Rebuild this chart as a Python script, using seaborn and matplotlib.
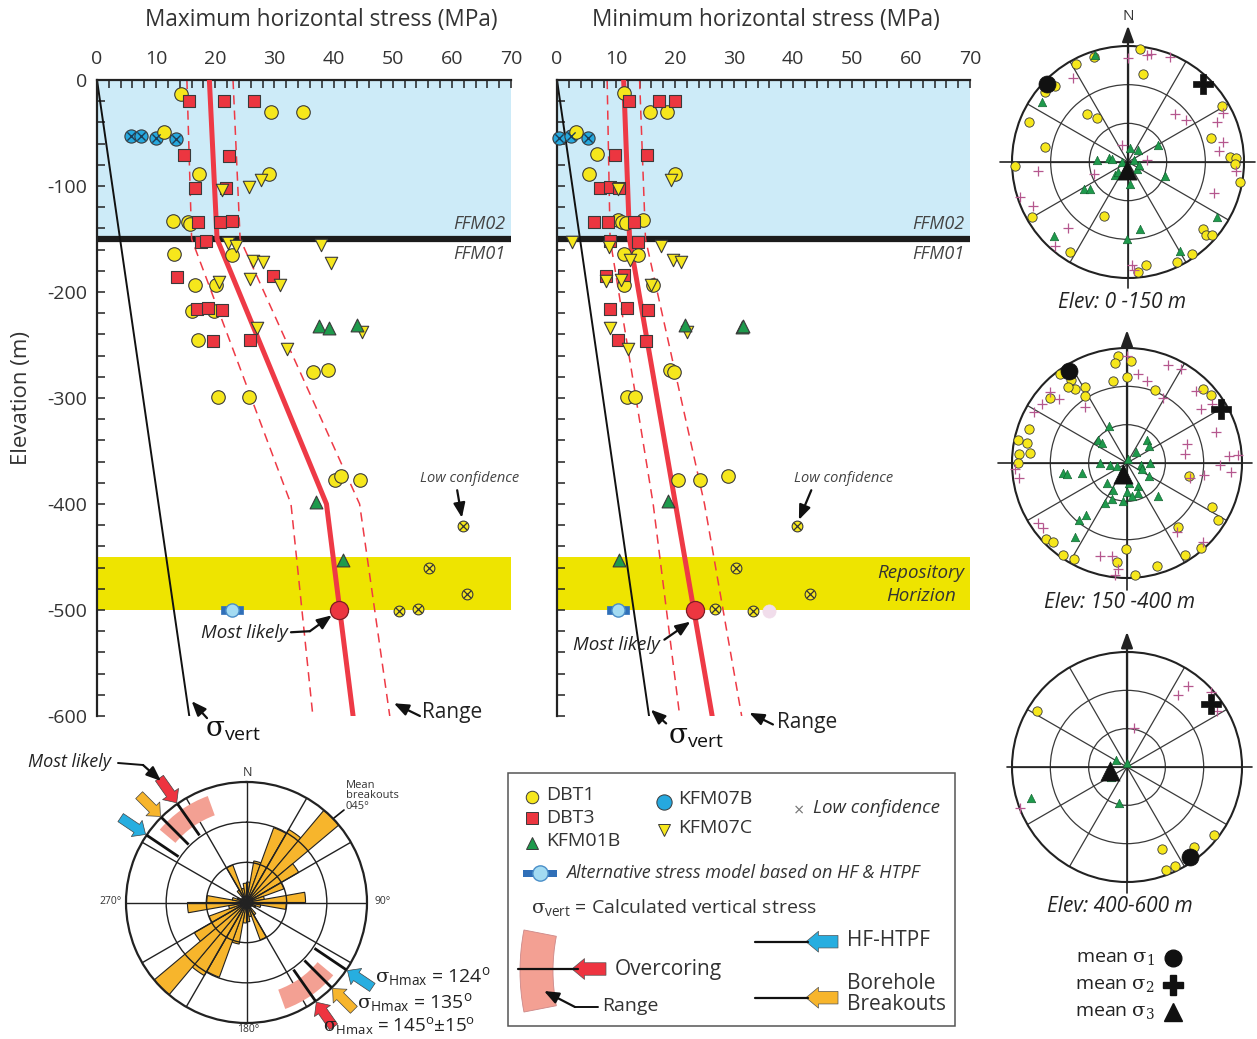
import numpy as np
import pandas as pd
import matplotlib
matplotlib.use("Agg")
import matplotlib.pyplot as plt
import seaborn as sns
from matplotlib.patches import Rectangle, Wedge, FancyArrowPatch
from matplotlib.path import Path

sns.set_style("white")
plt.rcParams["font.family"] = ["Open Sans", "DejaVu Sans"]
plt.rcParams["mathtext.fontset"] = "custom"
plt.rcParams["mathtext.rm"] = "DejaVu Serif"
plt.rcParams["mathtext.sf"] = "Open Sans"
plt.rcParams["mathtext.it"] = "DejaVu Serif:italic"
plt.rcParams["axes.unicode_minus"] = False

# ---------------- maximum horizontal stress (MPa) vs elevation (m) ----------------
HMAX_DBT1_S = [14.2, 29.5, 34.9, 11.3, 17.2, 29.0, 12.8, 15.4, 15.7, 13.0, 22.9, 16.6, 20.2, 16.0,
               19.8, 17.0, 36.6, 39.1, 20.4, 25.7, 40.2, 41.2, 44.4]
HMAX_DBT1_Z = [-13, -30, -30, -49, -89, -89, -133, -134, -136, -164, -165, -193, -193, -218,
               -218, -245, -275, -274, -299, -299, -377, -374, -377]
HMAX_DBT3_S = [15.6, 21.5, 26.6, 14.7, 22.3, 16.6, 21.8, 17.1, 20.8, 22.9, 17.6, 18.5, 13.6, 29.8,
               16.9, 18.8, 21.1, 19.6, 25.9]
HMAX_DBT3_Z = [-20, -20, -20, -71, -72, -102, -102, -134, -134, -133, -153, -152, -186, -185,
               -216, -215, -217, -246, -245]
HMAX_KFM07C_S = [21.1, 25.7, 27.7, 22.2, 23.5, 37.9, 26.3, 28.0, 39.6, 20.7, 25.9, 31.0, 27.0, 32.1, 44.8]
HMAX_KFM07C_Z = [-104, -101, -94, -154, -157, -156, -171, -172, -173, -191, -188, -193, -234, -254, -238]
HMAX_KFM01B_S = [37.6, 39.3, 43.9, 37.1, 41.6]
HMAX_KFM01B_Z = [-232, -234, -231, -398, -453]
HMAX_KFM07B_S = [5.7, 7.5, 10.0, 13.4]
HMAX_KFM07B_Z = [-53, -53, -55, -56]
HMAX_LOWCONF_S = [61.8, 56.1, 62.5, 51.1, 54.2]
HMAX_LOWCONF_Z = [-421, -460, -485, -501, -499]
HMAX_ALT = [22.8, -500]
HMAX_LIKELY = [41.0, -500]
HMAX_BEST_Z = [0, -150, -400, -600]
HMAX_BEST_S = [19.0, 20.3, 38.8, 43.3]
HMAX_LOW_S = [15.2, 16.0, 32.8, 36.5]
HMAX_HIGH_S = [23.0, 24.2, 44.4, 49.5]

# ---------------- minimum horizontal stress (MPa) vs elevation (m) ----------------
HMIN_DBT1_S = [11.3, 15.7, 18.6, 3.3, 6.8, 5.4, 20.0, 10.4, 11.0, 11.7, 14.6, 11.3, 13.8, 11.3,
               16.3, 19.2, 19.8, 11.9, 13.2, 20.5, 24.2, 28.9]
HMIN_DBT1_Z = [-12, -30, -30, -49, -70, -89, -89, -132, -134, -135, -132, -164, -165, -193,
               -193, -274, -275, -299, -299, -377, -377, -374]
HMIN_DBT3_S = [12.2, 17.3, 20.0, 9.8, 15.2, 7.3, 8.9, 10.5, 6.3, 8.7, 13.1, 8.9, 13.7, 8.3,
               11.3, 9.0, 11.9, 15.5, 10.4, 15.1]
HMIN_DBT3_Z = [-20, -20, -20, -71, -71, -102, -101, -102, -134, -134, -134, -152, -153, -185,
               -184, -216, -215, -217, -245, -246]
HMIN_KFM07C_S = [10.4, 19.4, 2.6, 8.8, 17.6, 12.4, 19.7, 21.1, 8.3, 10.9, 16.0, 9.0, 22.0, 12.0]
HMIN_KFM07C_Z = [-103, -94, -153, -158, -157, -170, -170, -172, -190, -189, -193, -234, -238, -254]
HMIN_KFM01B_S = [21.7, 31.3, 31.6, 18.8, 10.5]
HMIN_KFM01B_Z = [-231, -233, -232, -397, -453]
HMIN_KFM07B_S = [0.4, 2.3, 5.3]
HMIN_KFM07B_Z = [-55, -53, -55]
HMIN_LOWCONF_S = [40.6, 30.4, 42.9, 26.7, 33.3]
HMIN_LOWCONF_Z = [-421, -460, -485, -499, -501]
HMIN_FADED = [36.0, -501]
HMIN_ALT = [10.4, -500]
HMIN_LIKELY = [23.4, -500]
HMIN_BEST_Z = [0, -150, -600]
HMIN_BEST_S = [11.3, 12.3, 26.3]
HMIN_RANGE_Z = [0, -150, -400, -600]
HMIN_LOW_S = [8.5, 9.0, 16.3, 20.8]
HMIN_HIGH_S = [14.0, 15.0, 25.0, 31.3]

# calculated vertical stress
SVERT_Z = [0, -600]
SVERT_S = [0.0, 15.6]

# ---------------- stereonets: trend / plunge (deg) ----------------
NET1_S1_TREND = [6, 342, 332, 10, 314, 316, 310, 59, 319, 325, 292, 74, 280, 87, 88, 91, 268, 100,
                 240, 204, 132, 133, 131, 213, 145, 154, 170, 175]
NET1_S1_PLUNGE = [2, 4, 4, 21, 2, 8, 6, 5, 41, 48, 7, 23, 25, 11, 6, 7, 2, 2, 4, 44, 12, 7, 4, 7, 3, 4, 9, 4]
NET1_S2_TREND = [0, 10, 12, 22, 327, 43, 44, 54, 63, 66, 78, 83, 85, 264, 95, 110, 252, 245, 222,
                 221, 178, 177, 340, 251]
NET1_S2_PLUNGE = [9, 6, 4, 2, 12, 5, 38, 34, 7, 14, 15, 19, 75, 20, 6, 19, 2, 9, 21, 4, 10, 6, 76, 62]
NET1_S3_TREND = [343, 305, 225, 10, 41, 60, 283, 274, 282, 270, 74, 127, 107, 111, 174, 238, 235,
                 170, 181, 150, 122, 224, 223]
NET1_S3_PLUNGE = [3, 9, 9, 79, 78, 63, 75, 66, 77, 85, 85, 81, 81, 59, 73, 50, 54, 37, 30, 10, 9, 76, 79]
NET1_MEAN_TREND = [314, 44, 186]
NET1_MEAN_PLUNGE = [3, 6, 84]

NET2_S1_TREND = [355, 2, 353, 0, 350, 323, 326, 325, 322, 331, 328, 310, 21, 46, 51, 289, 282, 281,
                 275, 276, 270, 102, 117, 122, 141, 227, 223, 181, 139, 148, 215, 209, 186, 164, 176]
NET2_S1_PLUNGE = [6, 10, 11, 23, 25, 3, 12, 19, 15, 22, 28, 11, 29, 7, 5, 9, 3, 10, 5, 14, 5, 40, 15,
                  6, 26, 3, 5, 23, 2, 5, 2, 4, 12, 6, 2]
NET2_S2_TREND = [0, 23, 30, 7, 14, 313, 313, 305, 299, 323, 29, 44, 54, 55, 71, 72, 81, 86, 86, 91,
                 95, 99, 267, 262, 236, 232, 144, 136, 196, 189, 185, 186, 103]
NET2_S2_PLUNGE = [6, 7, 5, 20, 24, 8, 17, 9, 7, 35, 32, 12, 18, 9, 16, 41, 44, 10, 3, 17, 8, 29, 2,
                  5, 6, 7, 23, 4, 14, 16, 7, 2, 39]
NET2_S3_TREND = [334, 309, 308, 41, 52, 38, 10, 269, 264, 250, 213, 97, 90, 113, 121, 174, 155, 159,
                 180, 208, 226, 172, 137, 261, 260, 257, 203, 209, 186, 218, 220, 215]
NET2_S3_PLUNGE = [58, 61, 65, 66, 68, 79, 87, 69, 77, 82, 84, 79, 72, 77, 70, 74, 70, 65, 67, 66, 68,
                  64, 55, 39, 42, 54, 59, 54, 60, 38, 32, 19]
NET2_MEAN_TREND = [328, 60, 202]
NET2_MEAN_PLUNGE = [5, 5, 81]

NET3_S1_TREND = [302, 157, 154, 159, 140, 128]
NET3_S1_PLUNGE = [7, 20, 4, 4, 8, 4]
NET3_S2_TREND = [35, 37, 48, 58, 10, 249]
NET3_S2_PLUNGE = [21, 11, 2, 7, 59, 0]
NET3_S3_TREND = [302, 5, 239, 193, 252, 255]
NET3_S3_PLUNGE = [80, 87, 75, 61, 11, 75]
NET3_MEAN_TREND = [145, 53, 257]
NET3_MEAN_PLUNGE = [4, 8, 76]

# ---------------- borehole breakout rose (axial, 10 deg bins) ----------------
ROSE_BIN_START = list(range(0, 180, 10))
ROSE_LENGTH = [0.17, 0.35, 0.66, 0.70, 1.00, 0.50, 0.33, 0.15, 0.49,
               0.33, 0.12, 0.08, 0.05, 0.05, 0.12, 0.33, 0.12, 0.16]
SHMAX_DIR = [124, 135, 145]          # HF-HTPF, breakouts, overcoring
SHMAX_RANGE = [130, 160]

# ---------------- colours ----------------
YEL = "#F6E71C"
RED = "#EC3640"
GRN = "#1E9A4C"
CYN = "#26A8DE"
EDGE = "#3a3a3a"
LBLUE = "#CDEBF8"
BAND = "#EEE400"
PINKX = "#B5578E"
ORANGE = "#F7B52C"
SALMON = "#F3A093"
LINE_RED = "#EE3A46"

SIG_VERT = r"$\mathrm{\sigma}_{\mathsf{vert}}$"

W, H = 1257, 1039
fig = plt.figure(figsize=(W / 100, H / 100), dpi=100)


def px_box(x0, y0, x1, y1):
    return [x0 / W, 1 - y1 / H, (x1 - x0) / W, (y1 - y0) / H]


def pts(ax, s, z, marker, color, size, edge=EDGE, lw=0.8, zorder=5):
    df = pd.DataFrame({"stress": s, "elev": z})
    sns.scatterplot(data=df, x="stress", y="elev", ax=ax, marker=marker, color=color, s=size,
                    edgecolor=edge, linewidth=lw, zorder=zorder, legend=False, clip_on=False)


def stress_panel(box, d, left_labels, extra=None):
    ax = fig.add_axes(px_box(*box))
    ax.axhspan(-150, 0, color=LBLUE, lw=0, zorder=0)
    ax.axhspan(-500, -450, color=BAND, lw=0, zorder=0)
    ax.axhline(-150, color="#1c1c1c", lw=4.5, zorder=1)
    ax.plot(SVERT_S, SVERT_Z, color="#111", lw=1.4, zorder=2)
    ax.plot(d["lo_s"], d["rz"], color=LINE_RED, lw=1.1, ls=(0, (6, 4)), zorder=2)
    ax.plot(d["hi_s"], d["rz"], color=LINE_RED, lw=1.1, ls=(0, (6, 4)), zorder=2)
    ax.plot(d["best_s"], d["best_z"], color=LINE_RED, lw=3.6, zorder=3, solid_joinstyle="round")

    if extra is not None:
        pts(ax, [extra[0]], [extra[1]], "o", "#F1DDEB", 90, edge="#F1DDEB", lw=0.5, zorder=4)
    pts(ax, d["kfm07b_s"], d["kfm07b_z"], "o", CYN, 90)
    pts(ax, d["kfm07b_s"], d["kfm07b_z"], "x", "#1d3d55", 35, edge=None, lw=1.0, zorder=6)
    pts(ax, d["dbt1_s"], d["dbt1_z"], "o", YEL, 95)
    pts(ax, d["dbt3_s"], d["dbt3_z"], "s", RED, 70)
    pts(ax, d["k7c_s"], d["k7c_z"], "v", YEL, 80)
    pts(ax, d["k1b_s"], d["k1b_z"], "^", GRN, 85)
    pts(ax, d["lc_s"], d["lc_z"], "o", YEL, 60)
    pts(ax, d["lc_s"], d["lc_z"], "x", "#333", 28, edge=None, lw=0.9, zorder=6)
    bar = Path([(-1, -0.32), (1, -0.32), (1, 0.32), (-1, 0.32), (-1, -0.32)],
               [Path.MOVETO, Path.LINETO, Path.LINETO, Path.LINETO, Path.CLOSEPOLY])
    pts(ax, [d["alt"][0]], [d["alt"][1]], bar, "#2F6FB8", 260, edge="#2F6FB8", lw=0.5)
    pts(ax, [d["alt"][0]], [d["alt"][1]], "o", "#A3DBF2", 90, edge="#4a8ec8", lw=1.0, zorder=6)
    pts(ax, [d["likely"][0]], [d["likely"][1]], "o", RED, 170, edge="#7b1e24", lw=0.9, zorder=6)

    ax.set_xlim(0, 70)
    ax.set_ylim(-600, 0)
    ax.set_xlabel("")
    ax.set_ylabel("")
    ax.xaxis.tick_top()
    ax.set_xticks(range(0, 71, 10))
    ax.set_xticks(np.arange(0, 71, 2), minor=True)
    ax.set_yticks(range(-600, 1, 100))
    ax.set_yticks(range(-600, 1, 20), minor=True)
    ax.tick_params(axis="both", which="both", direction="in", length=6, width=1.1, color="#222")
    ax.tick_params(axis="x", which="both", top=True, bottom=False, labeltop=True, labelbottom=False,
                   labelsize=14, pad=9, labelcolor="#333")
    ax.tick_params(axis="y", which="both", left=True, right=False, labelleft=left_labels,
                   labelsize=14, pad=7, labelcolor="#333")
    for side in ("bottom", "right"):
        ax.spines[side].set_visible(False)
    for side in ("top", "left"):
        ax.spines[side].set_linewidth(1.6)
        ax.spines[side].set_color("#222")
    return ax


arrow_kw = dict(arrowstyle="-|>,head_length=0.55,head_width=0.22", color="#111", lw=1.6,
                mutation_scale=16, shrinkA=0, shrinkB=0)

# ---------- maximum horizontal stress ----------
ax1 = stress_panel((97, 80, 511, 716), dict(
    dbt1_s=HMAX_DBT1_S, dbt1_z=HMAX_DBT1_Z, dbt3_s=HMAX_DBT3_S, dbt3_z=HMAX_DBT3_Z,
    k7c_s=HMAX_KFM07C_S, k7c_z=HMAX_KFM07C_Z, k1b_s=HMAX_KFM01B_S, k1b_z=HMAX_KFM01B_Z,
    kfm07b_s=HMAX_KFM07B_S, kfm07b_z=HMAX_KFM07B_Z, lc_s=HMAX_LOWCONF_S, lc_z=HMAX_LOWCONF_Z,
    alt=HMAX_ALT, likely=HMAX_LIKELY, best_s=HMAX_BEST_S, best_z=HMAX_BEST_Z,
    lo_s=HMAX_LOW_S, hi_s=HMAX_HIGH_S, rz=HMAX_BEST_Z), True)
ax1.text(69, -136, "FFM02", ha="right", va="center", style="italic", fontsize=13, color="#444")
ax1.text(69, -164, "FFM01", ha="right", va="center", style="italic", fontsize=13, color="#444")
ax1.text(63.0, -376, "Low confidence", ha="center", va="center", style="italic", fontsize=10.5, color="#444")
ax1.annotate("", xy=(61.7, -413), xytext=(60.9, -387), arrowprops=arrow_kw, annotation_clip=False)
ax1.text(25.0, -522, "Most likely", ha="center", va="center", style="italic", fontsize=13.5, color="#222")
ax1.plot([32.8, 36.0], [-521, -520], color="#111", lw=1.6, clip_on=False)
ax1.annotate("", xy=(39.7, -505), xytext=(36.0, -520), arrowprops=arrow_kw, annotation_clip=False)
ax1.text(60.0, -597, "Range", ha="center", va="center", fontsize=15, color="#222")
ax1.annotate("", xy=(50.2, -588), xytext=(54.6, -600), arrowprops=arrow_kw, annotation_clip=False)
ax1.text(23.0, -613, SIG_VERT, ha="center", va="center", fontsize=20, color="#111")
ax1.annotate("", xy=(16.0, -586), xytext=(18.6, -602), arrowprops=arrow_kw, annotation_clip=False)

# ---------- minimum horizontal stress ----------
ax2 = stress_panel((557, 80, 970, 716), dict(
    dbt1_s=HMIN_DBT1_S, dbt1_z=HMIN_DBT1_Z, dbt3_s=HMIN_DBT3_S, dbt3_z=HMIN_DBT3_Z,
    k7c_s=HMIN_KFM07C_S, k7c_z=HMIN_KFM07C_Z, k1b_s=HMIN_KFM01B_S, k1b_z=HMIN_KFM01B_Z,
    kfm07b_s=HMIN_KFM07B_S, kfm07b_z=HMIN_KFM07B_Z, lc_s=HMIN_LOWCONF_S, lc_z=HMIN_LOWCONF_Z,
    alt=HMIN_ALT, likely=HMIN_LIKELY, best_s=HMIN_BEST_S, best_z=HMIN_BEST_Z,
    lo_s=HMIN_LOW_S, hi_s=HMIN_HIGH_S, rz=HMIN_RANGE_Z), False, extra=HMIN_FADED)
ax2.text(69, -136, "FFM02", ha="right", va="center", style="italic", fontsize=13, color="#444")
ax2.text(69, -164, "FFM01", ha="right", va="center", style="italic", fontsize=13, color="#444")
ax2.text(61.7, -465, "Repository", ha="center", va="center", style="italic", fontsize=13.5, color="#333")
ax2.text(61.7, -487, "Horizion", ha="center", va="center", style="italic", fontsize=13.5, color="#333")
ax2.text(48.6, -376, "Low confidence", ha="center", va="center", style="italic", fontsize=10.5, color="#444")
ax2.annotate("", xy=(41.0, -415), xytext=(43.1, -387), arrowprops=arrow_kw, annotation_clip=False)
ax2.text(10.0, -533, "Most likely", ha="center", va="center", style="italic", fontsize=13.5, color="#222")
ax2.annotate("", xy=(22.6, -511), xytext=(18.2, -528), arrowprops=arrow_kw, annotation_clip=False)
ax2.text(42.4, -606, "Range", ha="center", va="center", fontsize=15, color="#222")
ax2.annotate("", xy=(32.6, -597), xytext=(36.6, -608), arrowprops=arrow_kw, annotation_clip=False)
ax2.text(23.5, -619, SIG_VERT, ha="center", va="center", fontsize=20, color="#111")
ax2.annotate("", xy=(15.9, -594), xytext=(18.5, -607), arrowprops=arrow_kw, annotation_clip=False)


# ---------- stereonets ----------
def stereonet(box, s1, s2, s3, means, ext):
    ax = fig.add_axes(px_box(*box), projection="polar")
    ax.set_theta_zero_location("N")
    ax.set_theta_direction(-1)
    sets = [
        (s1, "o", YEL, 45, EDGE, 0.6),
        (s2, "+", PINKX, 45, None, 0.9),
        (s3, "^", GRN, 38, "#0f5a2a", 0.4),
    ]
    for (tr, pl), mk, col, size, edge, lw in sets:
        sns.scatterplot(x=np.deg2rad(tr), y=pl, ax=ax, marker=mk, color=col, s=size,
                        edgecolor=edge, linewidth=lw, zorder=5, legend=False, clip_on=False)
    mt, mp = means
    for i, (mk, size) in enumerate([("o", 150), ("P", 210), ("^", 190)]):
        sns.scatterplot(x=[np.deg2rad(mt[i])], y=[mp[i]], ax=ax, marker=mk, color="#111", s=size,
                        edgecolor="#111", linewidth=0.5, zorder=6, legend=False, clip_on=False)
    ax.set_ylim(90, 0)
    ax.set_yticks([30, 60])
    ax.set_xticks(np.deg2rad(np.arange(0, 360, 30)))
    ax.set_xticklabels([])
    ax.set_yticklabels([])
    ax.set_xlabel("")
    ax.set_ylabel("")
    ax.grid(True, color="#3a3a3a", lw=0.9)
    ax.spines["polar"].set_linewidth(1.5)
    ax.spines["polar"].set_color("#222")
    top, bottom, left, right = ext
    ax.plot([0.5, 0.5], [bottom, 0.5], transform=ax.transAxes, color="#222", lw=1.2, clip_on=False)
    ax.plot([left, right], [0.5, 0.5], transform=ax.transAxes, color="#222", lw=1.2, clip_on=False)
    ax.annotate("", xy=(0.5, top), xytext=(0.5, 0.5), xycoords="axes fraction",
                arrowprops=dict(arrowstyle="-|>,head_length=0.6,head_width=0.22", color="#222",
                                lw=1.6, mutation_scale=16, shrinkA=0, shrinkB=0),
                annotation_clip=False)
    return ax


stereonet((1012, 46, 1244, 278), (NET1_S1_TREND, NET1_S1_PLUNGE), (NET1_S2_TREND, NET1_S2_PLUNGE),
          (NET1_S3_TREND, NET1_S3_PLUNGE), (NET1_MEAN_TREND, NET1_MEAN_PLUNGE),
          (1.088, -0.043, -0.052, 1.047))
stereonet((1012, 348, 1242, 578), (NET2_S1_TREND, NET2_S1_PLUNGE), (NET2_S2_TREND, NET2_S2_PLUNGE),
          (NET2_S3_TREND, NET2_S3_PLUNGE), (NET2_MEAN_TREND, NET2_MEAN_PLUNGE),
          (1.078, -0.052, -0.06, 1.045))
stereonet((1012, 652, 1242, 882), (NET3_S1_TREND, NET3_S1_PLUNGE), (NET3_S2_TREND, NET3_S2_PLUNGE),
          (NET3_S3_TREND, NET3_S3_PLUNGE), (NET3_MEAN_TREND, NET3_MEAN_PLUNGE),
          (1.088, -0.048, -0.02, 1.045))

# ---------- breakout rose ----------
rax = fig.add_axes(px_box(126, 782, 367, 1023), projection="polar")
rax.set_theta_zero_location("N")
rax.set_theta_direction(-1)
centres = np.deg2rad(np.concatenate([np.array(ROSE_BIN_START) + 5, np.array(ROSE_BIN_START) + 185]))
lengths = np.concatenate([ROSE_LENGTH, ROSE_LENGTH])
rax.bar(centres, lengths, width=np.deg2rad(10), bottom=0, color=ORANGE, edgecolor="#222",
        linewidth=0.8, zorder=2)
rng_mid = np.mean(SHMAX_RANGE)
rng_w = SHMAX_RANGE[1] - SHMAX_RANGE[0]
for off in (0, 180):
    rax.bar(np.deg2rad(rng_mid + off), 0.17, width=np.deg2rad(rng_w), bottom=0.77, color=SALMON,
            edgecolor="none", zorder=6)
arrow_cols = ["#27AEE0", ORANGE, "#EE3440"]
for ang, col in zip(SHMAX_DIR, arrow_cols):
    for off in (0, 180):
        th = np.deg2rad(ang + off)
        rax.plot([th, th], [0.68, 1.0], color="#111", lw=2.0, zorder=7, solid_capstyle="butt")
        rax.annotate("", xy=(th, 1.01), xytext=(th, 1.26),
                     arrowprops=dict(arrowstyle="simple,head_length=0.55,head_width=1.0,tail_width=0.5",
                                     fc=col, ec="#444", lw=0.5, mutation_scale=14, shrinkA=0, shrinkB=0),
                     annotation_clip=False, zorder=8)
rax.set_ylim(0, 1)
rax.set_yticks([1 / 3, 2 / 3])
rax.set_xticks(np.deg2rad(np.arange(0, 360, 30)))
rax.set_xticklabels([])
rax.set_yticklabels([])
rax.set_axisbelow(False)
rax.grid(True, color="#222", lw=1.0)
rax.spines["polar"].set_linewidth(1.6)
rax.spines["polar"].set_color("#222")

# ---------- overlay in pixel coordinates for labels and the legend ----------
ov = fig.add_axes([0, 0, 1, 1], zorder=10)
ov.set_xlim(0, W)
ov.set_ylim(H, 0)
ov.axis("off")

ov.text(321, 20, "Maximum horizontal stress (MPa)", ha="center", va="center", fontsize=16.3, color="#333")
ov.text(766, 20, "Minimum horizontal stress (MPa)", ha="center", va="center", fontsize=16.3, color="#333")
ov.text(22, 398, "Elevation (m)", ha="center", va="center", rotation=90, fontsize=16, color="#333")

ov.text(1128, 17, "N", ha="center", va="center", fontsize=11, color="#333")
ov.text(1122, 302, "Elev: 0 -150 m", ha="center", va="center", style="italic", fontsize=15, color="#222")
ov.text(1120, 602, "Elev: 150 -400 m", ha="center", va="center", style="italic", fontsize=15, color="#222")
ov.text(1120, 907, "Elev: 400-600 m", ha="center", va="center", style="italic", fontsize=15, color="#222")
for i, (lab, mk, ms) in enumerate([("1", "o", 12), ("2", "P", 15), ("3", "^", 13)]):
    y = 958 + i * 27
    ov.text(1155, y, r"mean $\mathrm{\sigma_{%s}}$" % lab, ha="right", va="center", fontsize=14, color="#222")
    ov.plot([1173], [y], marker=mk, ms=ms, color="#111", ls="none")

# rose labels
ov.text(247, 773, "N", ha="center", va="center", fontsize=9, color="#333")
ov.text(383, 901, "90°", ha="center", va="center", fontsize=7.5, color="#333")
ov.text(111, 901, "270°", ha="center", va="center", fontsize=7.5, color="#333")
ov.text(248, 1030, "180°", ha="center", va="center", fontsize=7.5, color="#333")
ov.text(346, 796, "Mean\nbreakouts\n045°", ha="left", va="center", fontsize=8, color="#333",
        linespacing=0.95)
ov.plot([344, 334], [810, 818], color="#111", lw=1.2)
ov.text(28, 762, "Most likely", ha="left", va="center", style="italic", fontsize=13, color="#222")
ov.plot([118, 143], [763, 765], color="#111", lw=1.4)
ov.annotate("", xy=(161, 781), xytext=(143, 765), arrowprops=arrow_kw)
HMAX_LAB = r"$\mathrm{\sigma}_{\mathsf{Hmax}}$"
ov.text(375, 977, HMAX_LAB + r" = 124$^{\mathsf{o}}$", ha="left", va="center",
        fontsize=14, color="#222")
ov.text(357, 1003, HMAX_LAB + r" = 135$^{\mathsf{o}}$", ha="left", va="center",
        fontsize=14, color="#222")
ov.text(323, 1026, HMAX_LAB + r" = 145$^{\mathsf{o}}$±15$^{\mathsf{o}}$", ha="left",
        va="center", fontsize=13.5, color="#222")

# legend box
ov.add_patch(Rectangle((508, 773), 447, 253, fill=False, ec="#555", lw=1.1))
ov.plot([531.7], [796.7], marker="o", ms=9, mfc=YEL, mec=EDGE, mew=0.7, ls="none")
ov.plot([531.7], [818.3], marker="s", ms=8, mfc=RED, mec=EDGE, mew=0.7, ls="none")
ov.plot([531.7], [843.3], marker="^", ms=9, mfc=GRN, mec=EDGE, mew=0.7, ls="none")
ov.plot([664], [801.7], marker="o", ms=11, mfc=CYN, mec=EDGE, mew=0.7, ls="none")
ov.plot([664], [830], marker="v", ms=9, mfc=YEL, mec=EDGE, mew=0.7, ls="none")
for txt, x, y in [("DBT1", 546, 795), ("DBT3", 546, 818), ("KFM01B", 546, 841),
                  ("KFM07B", 678, 799), ("KFM07C", 678, 828)]:
    ov.text(x, y, txt, ha="left", va="center", fontsize=14, color="#333")
ov.text(799, 811, "×", ha="center", va="center", fontsize=13, color="#777")
ov.text(813, 808, "Low confidence", ha="left", va="center", style="italic", fontsize=13.5, color="#333")
ov.add_patch(Rectangle((523, 870), 34, 6.5, color="#2F6FB8", lw=0))
ov.plot([540], [873], marker="o", ms=11, mfc="#A3DBF2", mec="#4a8ec8", mew=1.0, ls="none")
ov.text(566, 873, "Alternative stress model based on HF & HTPF", ha="left", va="center",
        style="italic", fontsize=13, color="#333")
ov.text(531, 908, SIG_VERT + " = Calculated vertical stress", ha="left", va="center",
        fontsize=14, color="#333")
ov.add_patch(Wedge((735, 971), 215, 169, 191, width=33, fc=SALMON, ec="#c88", lw=0.6))
ov.plot([518, 578], [969, 969], color="#111", lw=1.6)
for (x0, x1, y, col) in [(606, 572, 969, "#EE3440"), (838, 806, 941.7, "#27AEE0"),
                         (838, 806, 997.7, ORANGE)]:
    ov.add_patch(FancyArrowPatch((x0, y), (x1, y),
                                 arrowstyle="simple,head_length=0.6,head_width=1.0,tail_width=0.6",
                                 mutation_scale=15, fc=col, ec="#555", lw=0.5, shrinkA=0, shrinkB=0))
ov.plot([755, 808], [941.7, 941.7], color="#111", lw=1.6)
ov.plot([755, 808], [997.7, 997.7], color="#111", lw=1.6)
ov.text(615, 969, "Overcoring", ha="left", va="center", fontsize=15, color="#333")
ov.text(847, 941, "HF-HTPF", ha="left", va="center", fontsize=15, color="#333")
ov.text(847, 994, "Borehole\nBreakouts", ha="left", va="center", fontsize=15, color="#333",
        linespacing=0.95)
ov.plot([598, 575], [1007, 1007], color="#111", lw=1.4)
ov.annotate("", xy=(544, 991), xytext=(575, 1007), arrowprops=arrow_kw)
ov.text(602, 1006, "Range", ha="left", va="center", fontsize=14, color="#333")

fig.savefig("out.png", dpi=100)
